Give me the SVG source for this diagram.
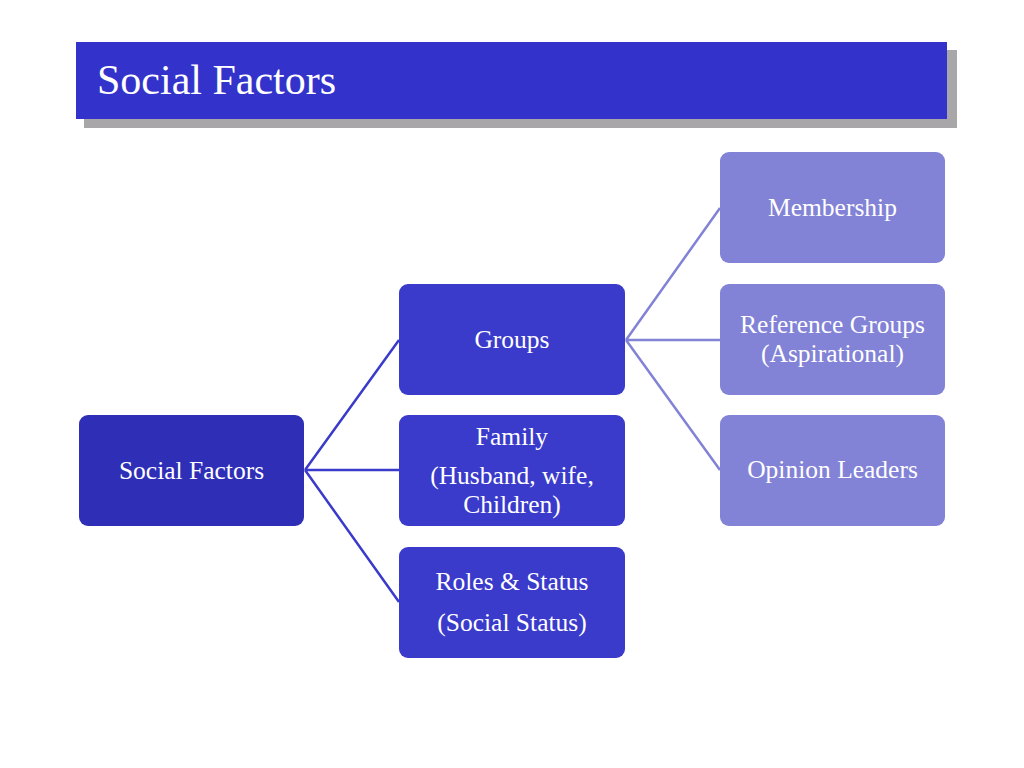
<svg xmlns="http://www.w3.org/2000/svg" width="1024" height="768" viewBox="0 0 1024 768">
<style>
text{font-family:"Liberation Serif","Times New Roman",serif;fill:#ffffff;text-anchor:middle}
.t{font-size:25.5px}
.l0{fill:#2e2eb6}
.l1{fill:#3a3acb}
.l2{fill:#8282d6}
.c1{stroke:#3a3acb;stroke-width:2.5;fill:none}
.c2{stroke:#8282d6;stroke-width:2.5;fill:none}
</style>
<rect width="1024" height="768" fill="#ffffff"/>
<g id="title">
<rect x="84" y="50" width="873" height="78" fill="#a8a6a8"/>
<rect x="76" y="42" width="871" height="77" fill="#3333cc"/>
<text x="97" y="94" style="font-size:42px;text-anchor:start">Social Factors</text>
</g>
<g id="connectors">
<path class="c1" d="M305,470 L399,340 M305,470 L399,470 M305,470 L399,602"/>
<path class="c2" d="M626,340 L720,208 M626,340 L720,340 M626,340 L720,470"/>
</g>
<g id="n-social">
<rect class="l0" x="79" y="415" width="225" height="111" rx="9"/>
<text class="t" x="191.5" y="479">Social Factors</text>
</g>
<g id="n-groups">
<rect class="l1" x="399" y="284" width="226" height="111" rx="9"/>
<text class="t" x="512" y="348">Groups</text>
</g>
<g id="n-family">
<rect class="l1" x="399" y="415" width="226" height="111" rx="9"/>
<text class="t" x="512" y="445">Family</text>
<text class="t" x="512" y="484">(Husband, wife,</text>
<text class="t" x="512" y="513">Children)</text>
</g>
<g id="n-roles">
<rect class="l1" x="399" y="547" width="226" height="111" rx="9"/>
<text class="t" x="512" y="590">Roles &amp; Status</text>
<text class="t" x="512" y="631">(Social Status)</text>
</g>
<g id="n-membership">
<rect class="l2" x="720" y="152" width="225" height="111" rx="9"/>
<text class="t" x="832.5" y="216">Membership</text>
</g>
<g id="n-reference">
<rect class="l2" x="720" y="284" width="225" height="111" rx="9"/>
<text class="t" x="832.5" y="333">Reference Groups</text>
<text class="t" x="832.5" y="362">(Aspirational)</text>
</g>
<g id="n-opinion">
<rect class="l2" x="720" y="415" width="225" height="111" rx="9"/>
<text class="t" x="832.5" y="478">Opinion Leaders</text>
</g>
</svg>
